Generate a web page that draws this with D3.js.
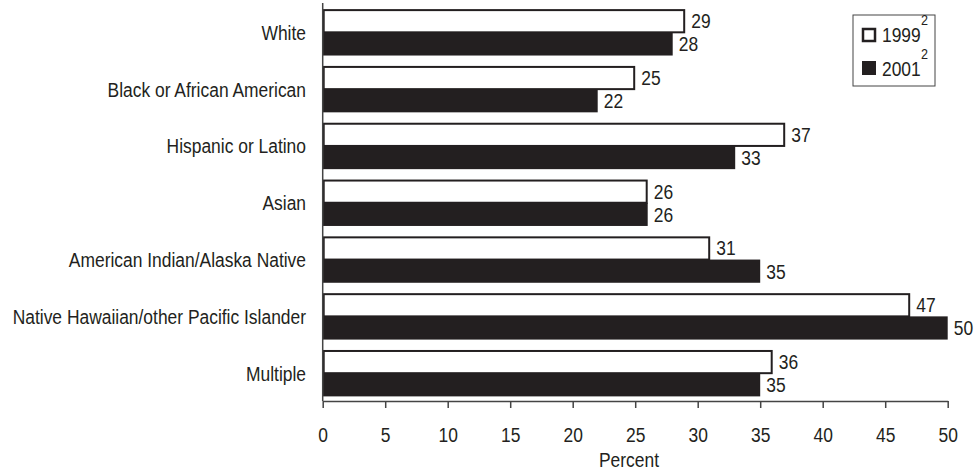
<!DOCTYPE html>
<html>
<head>
<meta charset="utf-8">
<script src="https://cdn.jsdelivr.net/npm/d3@7"></script>
<style>
  html, body { margin: 0; padding: 0; background: #fff; }
  svg { display: block; }
  text { font-family: "Liberation Sans", Arial, sans-serif; fill: #231f20; }
</style>
</head>
<body>
<svg id="chart" width="975" height="474"></svg>
<script>
const categories = [
  "White",
  "Black or African American",
  "Hispanic or Latino",
  "Asian",
  "American Indian/Alaska Native",
  "Native Hawaiian/other Pacific Islander",
  "Multiple"
];
const seriesNames = ["1999", "2001"];
const values1999 = [29, 25, 37, 26, 31, 47, 36];
const values2001 = [28, 22, 33, 26, 35, 50, 35];
const xTicks = [0, 5, 10, 15, 20, 25, 30, 35, 40, 45, 50];
const xAxisTitle = "Percent";
const legendSuperscript = "2";

const INK = "#231f20";
const SX = 0.83; // narrow-face horizontal scale
const FS = 21;

const svg = d3.select("#chart");

const x = d3.scaleLinear().domain([0, 50]).range([322.7, 947.7]);
const y0 = d3.scaleBand().domain(categories).range([4, 401.5])
  .paddingInner(0.183).paddingOuter(0.09);
const y1 = d3.scaleBand().domain(seriesNames).range([0, y0.bandwidth()]).padding(0);

const rows = categories.map((c, i) => ({
  cat: c,
  vals: [
    { s: "1999", v: values1999[i] },
    { s: "2001", v: values2001[i] }
  ]
}));

function narrowText(sel, tx, ty, sx) {
  const k = sx || SX;
  sel.attr("x", 0).attr("y", 0)
     .attr("transform", (d, i, n) => `translate(${typeof tx === "function" ? tx(d, i, n) : tx},${typeof ty === "function" ? ty(d, i, n) : ty}) scale(${k},1)`);
}

// bars
const g = svg.append("g");
const groups = g.selectAll("g.grp").data(rows).join("g")
  .attr("class", "grp")
  .attr("transform", d => `translate(0,${y0(d.cat)})`);

groups.selectAll("rect").data(d => d.vals).join("rect")
  .attr("x", d => d.s === "1999" ? x(0) + 1 : x(0))
  .attr("y", d => d.s === "1999" ? y1(d.s) + 1 : y1(d.s))
  .attr("width", d => d.s === "1999" ? x(d.v) - x(0) - 2 : x(d.v) - x(0))
  .attr("height", d => d.s === "1999" ? y1.bandwidth() - 1 : y1.bandwidth())
  .attr("fill", d => d.s === "1999" ? "#fff" : INK)
  .attr("stroke", d => d.s === "1999" ? INK : "none")
  .attr("stroke-width", 2);

// value labels
groups.selectAll("text.val").data(d => d.vals).join("text")
  .attr("class", "val")
  .attr("font-size", FS)
  .attr("text-anchor", "start")
  .text(d => d.v)
  .call(narrowText, d => x(d.v) + 6, d => y1(d.s) + y1.bandwidth() / 2 + 7.5);

// category labels
svg.append("g").selectAll("text").data(categories).join("text")
  .attr("font-size", FS)
  .attr("text-anchor", "end")
  .text(d => d)
  .call(narrowText, 306, d => y0(d) + y0.bandwidth() / 2 + 7.5);

// y axis line
svg.append("line")
  .attr("x1", x(0)).attr("x2", x(0))
  .attr("y1", 3).attr("y2", 401)
  .attr("stroke", "#444").attr("stroke-width", 1.5);

// x axis
const xAxis = svg.append("g")
  .attr("transform", "translate(0,401)")
  .call(d3.axisBottom(x).tickValues(xTicks).tickSize(7).tickSizeOuter(0));
xAxis.select(".domain").attr("stroke", "#444").attr("stroke-width", 1.5);
xAxis.selectAll(".tick line").attr("stroke", "#444").attr("stroke-width", 1.5);
xAxis.selectAll(".tick text")
  .attr("font-size", FS)
  .attr("font-family", "Liberation Sans, Arial, sans-serif")
  .attr("fill", INK)
  .attr("dy", 0)
  .call(narrowText, 0, 41);

// axis title
svg.append("text")
  .attr("font-size", FS)
  .attr("text-anchor", "middle")
  .text(xAxisTitle)
  .call(narrowText, 629, 466.5);

// legend
const leg = svg.append("g");
leg.append("rect")
  .attr("x", 853).attr("y", 15).attr("width", 82).attr("height", 71)
  .attr("fill", "#fff").attr("stroke", "#444").attr("stroke-width", 1);

const legItems = [
  { s: "1999", sy: 28, ty: 42 },
  { s: "2001", sy: 61, ty: 76 }
];
leg.selectAll("rect.sw").data(legItems).join("rect")
  .attr("class", "sw")
  .attr("x", d => d.s === "1999" ? 863 : 862)
  .attr("y", d => d.s === "1999" ? d.sy + 1 : d.sy)
  .attr("width", d => d.s === "1999" ? 12 : 14)
  .attr("height", d => d.s === "1999" ? 12 : 14)
  .attr("fill", d => d.s === "1999" ? "#fff" : INK)
  .attr("stroke", d => d.s === "1999" ? INK : "none")
  .attr("stroke-width", 2.5);
leg.selectAll("text.lt").data(legItems).join("text")
  .attr("class", "lt")
  .attr("font-size", FS)
  .text(d => d.s)
  .call(narrowText, 882, d => d.ty);
leg.selectAll("text.sup").data(legItems).join("text")
  .attr("class", "sup")
  .attr("font-size", 14)
  .text(legendSuperscript)
  .call(narrowText, 921, d => d.ty - 17, 0.9);
</script>
</body>
</html>
